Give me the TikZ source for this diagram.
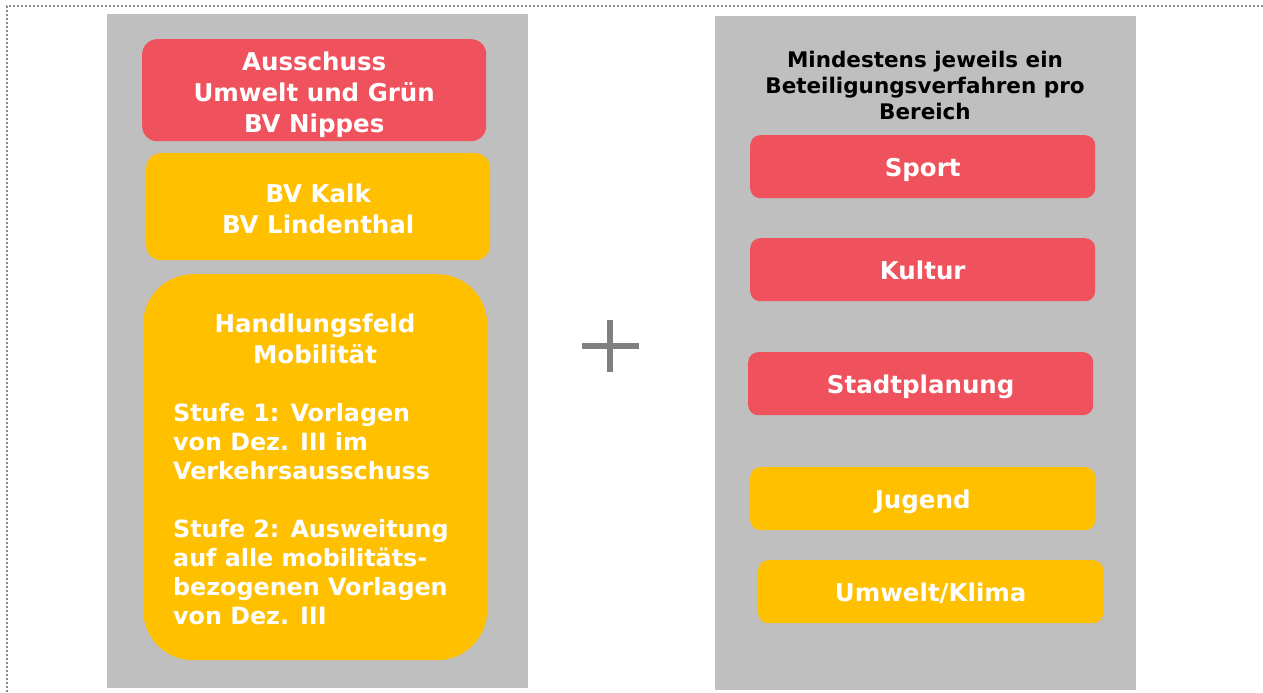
\documentclass[tikz,border=0pt]{standalone}
\usepackage{fontspec}
\setmainfont{DejaVu Sans}
\definecolor{cred}{HTML}{F0525D}
\definecolor{cyel}{HTML}{FFC000}
\definecolor{cgray}{HTML}{BFBFBF}
\definecolor{cplus}{HTML}{808080}
\definecolor{cdot}{HTML}{8A8A8A}
\begin{document}
\begin{tikzpicture}[x=1pt,y=-1pt,
  panel/.style={fill=cgray,draw=none},
  bigbox/.style={rounded corners=#1,draw=none,inner sep=0pt,anchor=north west},
  lbl/.style={text=white,font=\bfseries\fontsize{24.5}{31}\selectfont,align=center,inner sep=0pt},
  body/.style={text=white,font=\bfseries\fontsize{23.8}{29}\selectfont,align=left,inner sep=0pt,anchor=north west},
  small/.style={rounded corners=10pt,draw=none,inner sep=0pt,anchor=north west,minimum width=345,minimum height=63,text height=24pt,text depth=4pt,text=white,font=\bfseries\fontsize{24.5}{29}\selectfont},
  title/.style={text=black,font=\bfseries\fontsize{21.5}{26}\selectfont,align=center,inner sep=0pt},
  dotline/.style={draw=cdot,line width=2.6pt,dash pattern=on 2.2pt off 1.8pt}]
\useasboundingbox (0,0) rectangle (1263,693);
% dotted frame
\coordinate (ftl) at (7,6);
\coordinate (ftr) at (1263,6);
\coordinate (fbl) at (7,693);
\draw[dotline] (ftr) -- (ftl) -- (fbl);
% panels
\fill[panel] (107,14) rectangle (528,688);
\fill[panel] (715,16) rectangle (1136,690);
% left column
\node[bigbox=15pt,fill=cred,minimum width=344,minimum height=102] (aus) at (142,39) {};
\node[lbl] (austxt) at ([yshift=-5pt]aus.center) {Ausschuss\\Umwelt und Grün\\BV Nippes};
\node[bigbox=15pt,fill=cyel,minimum width=344,minimum height=107] (kalk) at (146,153) {};
\node[lbl] (kalktxt) at ([yshift=-2pt]kalk.center) {BV Kalk\\BV Lindenthal};
\node[bigbox=50pt,fill=cyel,minimum width=344,minimum height=386] (mob) at (143,274) {};
\node[lbl] (mobtitle) at (315,338.5) {Handlungsfeld\\Mobilität};
\node[body] (mobbody) at (173,403) {Stufe 1: Vorlagen\\von Dez. III im\\Verkehrsausschuss\\[29pt]Stufe 2: Ausweitung\\auf alle mobilitäts-\\bezogenen Vorlagen\\von Dez. III};
% plus
\coordinate (pl) at (582,346);
\coordinate (pr) at (639,346);
\coordinate (pt) at (610,320);
\coordinate (pb) at (610,372);
\draw[cplus,line width=6pt] (pl) -- (pr);
\draw[cplus,line width=6pt] (pt) -- (pb);
% right column
\node[title] (ttl) at (925,85) {Mindestens jeweils ein\\Beteiligungsverfahren pro\\Bereich};
\node[small,fill=cred] (sport) at (750,135) {Sport};
\node[small,fill=cred] (kultur) at (750,238) {Kultur};
\node[small,fill=cred] (stadt) at (748,352) {Stadtplanung};
\node[small,fill=cyel] (jugend) at (750,467) {Jugend};
\node[small,fill=cyel] (umwelt) at (758,560) {Umwelt/Klima};
\end{tikzpicture}
\end{document}
